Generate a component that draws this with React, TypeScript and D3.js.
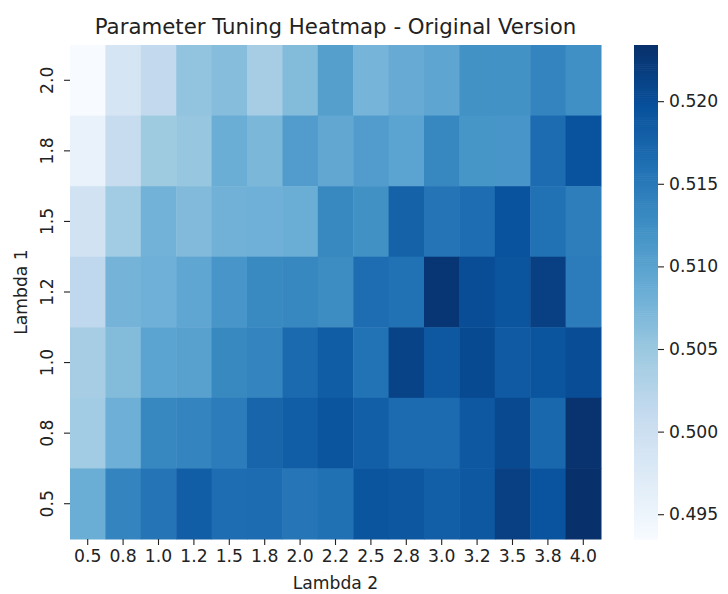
import { useEffect, useRef } from "react";
import * as d3 from "d3";

// lambda 2 along x, lambda 1 along y (top row first)
const lambda2 = ["0.5", "0.8", "1.0", "1.2", "1.5", "1.8", "2.0", "2.2", "2.5", "2.8", "3.0", "3.2", "3.5", "3.8", "4.0"];
const lambda1 = ["2.0", "1.8", "1.5", "1.2", "1.0", "0.8", "0.5"];

// scores, one array per lambda 1 row
const row20 = [0.4935, 0.4986, 0.5013, 0.5055, 0.5064, 0.504, 0.5067, 0.5105, 0.5076, 0.5088, 0.5096, 0.5122, 0.5122, 0.5138, 0.5124];
const row18 = [0.4956, 0.5007, 0.5046, 0.5052, 0.5085, 0.5073, 0.5108, 0.5094, 0.5108, 0.5099, 0.5134, 0.5117, 0.5116, 0.5165, 0.5195];
const row15 = [0.4992, 0.5043, 0.5079, 0.5068, 0.508, 0.5082, 0.5085, 0.5132, 0.5123, 0.5177, 0.5156, 0.5164, 0.5195, 0.5159, 0.5144];
const row12 = [0.5016, 0.5077, 0.5082, 0.5095, 0.5116, 0.5131, 0.5134, 0.5128, 0.5164, 0.5159, 0.5227, 0.5201, 0.5192, 0.5216, 0.5147];
const row10 = [0.504, 0.5067, 0.5099, 0.5102, 0.5132, 0.5138, 0.5168, 0.5183, 0.5158, 0.5213, 0.5189, 0.5204, 0.5186, 0.5192, 0.5201];
const row08 = [0.5043, 0.5083, 0.5134, 0.5138, 0.5147, 0.5173, 0.5182, 0.5192, 0.518, 0.5167, 0.5167, 0.5188, 0.5206, 0.5171, 0.5231];
const row05 = [0.5085, 0.5138, 0.5156, 0.5182, 0.5164, 0.5165, 0.5155, 0.5161, 0.5192, 0.519, 0.518, 0.5188, 0.5216, 0.5194, 0.5234];
const rows = [row20, row18, row15, row12, row10, row08, row05];

const cbTicks = [0.495, 0.5, 0.505, 0.51, 0.515, 0.52];

// matplotlib "Blues"
const blues = ["#f7fbff", "#deebf7", "#c6dbef", "#9ecae1", "#6baed6", "#4292c6", "#2171b5", "#08519c", "#08306b"];

const W = 728;
const H = 594;
const left = 70;
const right = 601;
const top = 45;
const bottom = 539;
const font = "DejaVu Sans, sans-serif";
const fs = 17.2;

const App = () => {
  const ref = useRef(null);

  useEffect(() => {
    const svg = d3.select(ref.current);
    svg.selectAll("*").remove();

    const all = rows.flat();
    const [vmin, vmax] = d3.extent(all) as [number, number];
    const color = d3
      .scaleLinear<string>()
      .domain(blues.map((_, i) => vmin + ((vmax - vmin) * i) / (blues.length - 1)))
      .range(blues)
      .interpolate(d3.interpolateRgb)
      .clamp(true);

    const x = d3.scaleBand().domain(lambda2).range([left, right]);
    const y = d3.scaleBand().domain(lambda1).range([top, bottom]);

    // cells
    const g = svg.append("g");
    rows.forEach((vals, r) => {
      g.selectAll(null)
        .data(vals)
        .enter()
        .append("rect")
        .attr("x", (_, i) => x(lambda2[i]))
        .attr("y", y(lambda1[r]))
        .attr("width", x.bandwidth() + 0.5)
        .attr("height", y.bandwidth() + 0.5)
        .attr("fill", (d) => color(d));
    });

    // x axis
    const xAxis = svg
      .append("g")
      .attr("transform", `translate(0, ${bottom})`)
      .call(d3.axisBottom(x).tickSize(6).tickPadding(5));
    xAxis.select(".domain").remove();
    xAxis.selectAll("line").attr("stroke", "#222").attr("stroke-width", 1.1);
    xAxis.selectAll("text").attr("font-family", font).attr("font-size", fs).attr("fill", "#222");

    // y axis, labels turned
    const yAxis = svg
      .append("g")
      .attr("transform", `translate(${left}, 0)`)
      .call(d3.axisLeft(y).tickSize(6).tickPadding(0));
    yAxis.select(".domain").remove();
    yAxis.selectAll("line").attr("stroke", "#222").attr("stroke-width", 1.1);
    yAxis
      .selectAll("text")
      .attr("font-family", font)
      .attr("font-size", fs)
      .attr("fill", "#222")
      .attr("x", null)
      .attr("dy", null)
      .attr("text-anchor", "middle")
      .attr("transform", "translate(-17, 0) rotate(-90)");

    svg
      .append("text")
      .attr("x", (left + right) / 2)
      .attr("y", 589)
      .attr("text-anchor", "middle")
      .attr("font-family", font)
      .attr("font-size", fs)
      .attr("fill", "#222")
      .text("Lambda 2");

    svg
      .append("text")
      .attr("transform", `translate(27, ${(top + bottom) / 2}) rotate(-90)`)
      .attr("text-anchor", "middle")
      .attr("font-family", font)
      .attr("font-size", fs)
      .attr("fill", "#222")
      .text("Lambda 1");

    svg
      .append("text")
      .attr("x", (left + right) / 2)
      .attr("y", 33.5)
      .attr("text-anchor", "middle")
      .attr("font-family", font)
      .attr("font-size", 21.3)
      .attr("fill", "#222")
      .text("Parameter Tuning Heatmap - Original Version");

    // colorbar
    const cbX = 634;
    const cbW = 24;
    const cy = d3.scaleLinear().domain([vmin, vmax]).range([bottom, top]);
    const steps = d3.range(0, 256);
    svg
      .append("g")
      .selectAll("rect")
      .data(steps)
      .enter()
      .append("rect")
      .attr("x", cbX)
      .attr("width", cbW)
      .attr("y", (s) => cy(vmin + ((vmax - vmin) * (s + 1)) / 256))
      .attr("height", (bottom - top) / 256 + 0.6)
      .attr("fill", (s) => color(vmin + ((vmax - vmin) * (s + 0.5)) / 256));

    const cbAxis = svg
      .append("g")
      .attr("transform", `translate(${cbX + cbW}, 0)`)
      .call(d3.axisRight(cy).tickValues(cbTicks).tickFormat(d3.format(".3f")).tickSize(6).tickPadding(5));
    cbAxis.select(".domain").remove();
    cbAxis.selectAll("line").attr("stroke", "#222").attr("stroke-width", 1.1);
    cbAxis.selectAll("text").attr("font-family", font).attr("font-size", fs).attr("fill", "#222");
  }, []);

  return (
    <svg
      ref={ref}
      width={W}
      height={H}
      style={{ position: "absolute", left: 0, top: 0, background: "#fff" }}
    ></svg>
  );
};

export default App;
